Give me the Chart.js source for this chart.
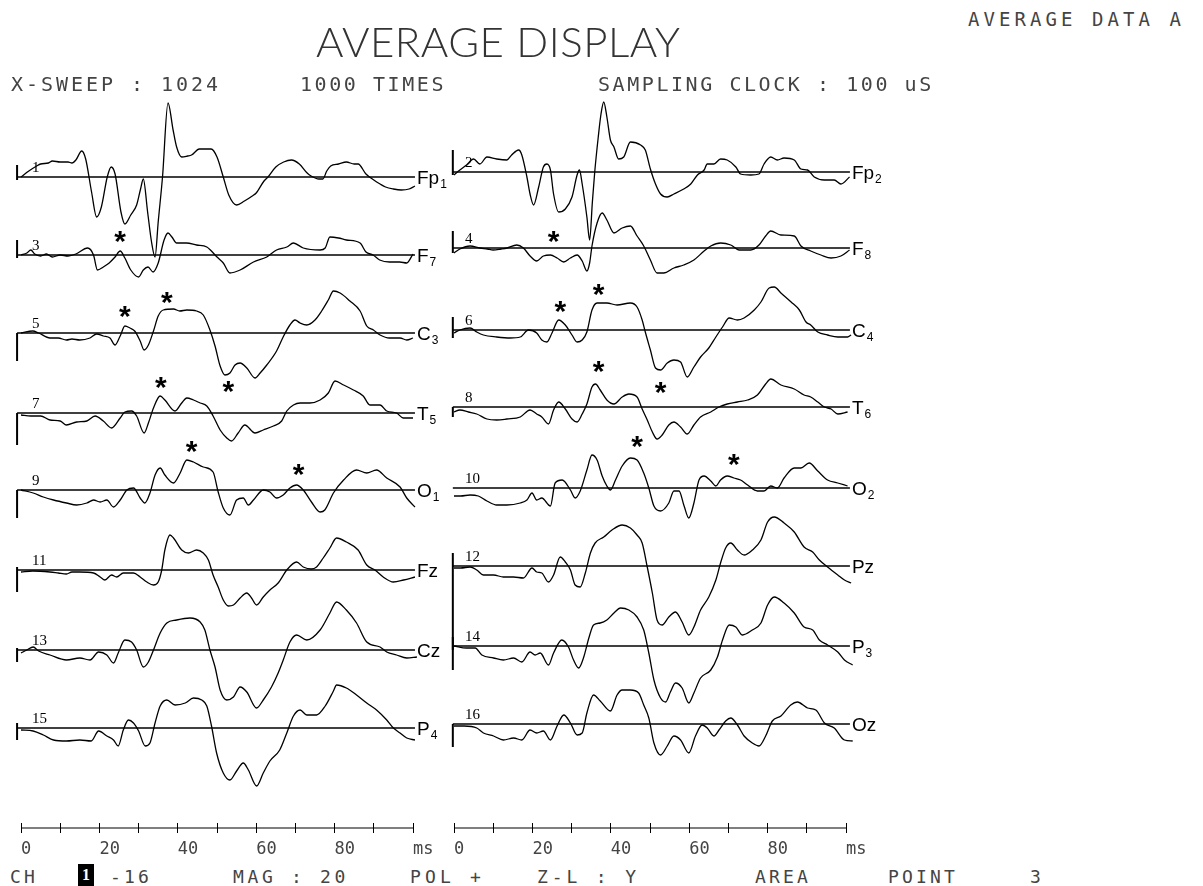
<!DOCTYPE html>
<html>
<head>
<meta charset="utf-8">
<script src="https://cdn.jsdelivr.net/npm/chart.js@4.4.1/dist/chart.umd.min.js"></script>
<style>
  html, body { margin: 0; padding: 0; background: #fff; overflow: hidden; }
  #page { position: relative; width: 1203px; height: 886px; overflow: hidden; background: #fff; }
  #page canvas { position: absolute; }
  .t { position: absolute; white-space: nowrap; font-family: "DejaVu Sans Mono", monospace; color: #444; line-height: 1; transform-origin: 0 0; }
  .title { font-family: Lato, "Noto Sans", sans-serif; font-weight: 300; color: #333; }
  .chbox { position: absolute; background: #000; color: #fff; font: bold 16px "Liberation Serif", serif; text-align: center; line-height: 22px; }
</style>
</head>
<body>
<div id="page"></div>
<script>
// ---- data: [time ms, deflection] ----
const fp1 = [[0,0],[2,6],[4,11],[5,13],[7,14],[8,16],[10,15],[12,15],[13,14],[14,17],[15.5,26],[16.5,18],[18,-15],[19.3,-40],[20.5,-30],[22,0],[23,10],[24,3],[25.5,-35],[26.5,-47],[28,-38],[29.5,-28],[30.5,-12],[31.2,-2],[32.3,-35],[33.3,-65],[34.2,-80],[35,-45],[36.1,0],[37.5,74],[38.8,47],[39.7,30],[41,20],[42.5,21],[43.5,22],[45.5,28],[48.5,28],[50,20],[51.6,0],[53,-18],[55,-28],[57,-24],[59,-19],[60,-16],[62,-4],[63,0],[65,10],[67,15],[69,17],[71,13],[73,4],[74,1],[76,-2],[77,-2],[78,6],[79,11],[81,13],[83,15],[85,13],[86,13],[88,3],[90,-3],[91.6,-7],[93,-10],[95,-12],[97,-13],[99,-12],[100.5,-9]];
const f7 = [[0,0],[1.5,2],[2.5,5],[3.5,1],[5,-1],[6.5,1],[8,-2],[10,0],[12,-1],[14,1],[17,7],[18.5,0],[19.5,-15],[21,-12],[22.5,-8],[24,-2],[25.3,4],[26.5,-3],[28,-15],[30,-22],[31.2,-15],[32.4,-12],[33.7,-17],[35,-8],[36.5,15],[37.5,22],[38.5,18],[39.7,12],[42.2,12],[44.8,10],[47.4,8],[50,-2],[51.6,-8],[53.3,-18],[55.9,-15],[59.3,-7],[62.7,-2],[65.2,5],[67.8,8],[69.5,12],[72,7],[76.3,5],[77.6,7],[78.8,18],[81,17],[83,15],[86.5,12],[88,3],[89.8,0],[91.5,-5],[94,-7],[96.6,-7],[98.4,-8],[100,1]];
const c3 = [[0,0],[3,2],[4.5,0],[7.4,-5],[9.5,-5],[11.6,-7],[13,-6],[15,-7],[17.6,-5],[19.3,-1],[21,-3],[22.7,-5],[24,-12],[25.3,-3],[26.5,7],[27.8,5],[29,2],[30.4,-8],[31.4,-17],[32.5,-12],[33.8,2],[35,17],[36.3,23],[38.9,24],[40.5,22],[42.3,23],[44.8,22],[46.5,18],[48.2,3],[49.5,-13],[50.8,-33],[52,-42],[53.3,-40],[54.6,-32],[55.9,-30],[57.6,-35],[59.7,-45],[61,-40],[62.7,-32],[65.2,-18],[67,-3],[68.6,8],[69.9,13],[71.2,10],[72.9,8],[75,13],[76.7,22],[78.4,33],[79.7,42],[81.4,40],[83.9,32],[86.5,22],[88.2,7],[89.9,3],[91.6,-2],[94,-5],[96.7,-5],[98.4,-7],[100,-5]];
const t5 = [[0,-2],[2.5,-3],[5,-3],[7.4,-7],[10,-8],[11.6,-12],[14.2,-9],[16.8,-8],[18.9,-3],[21,-8],[23.1,-15],[25.3,-5],[26.5,1],[28.2,2],[29.5,-3],[31.4,-20],[32.5,-10],[33.8,5],[35.5,17],[36.7,13],[39.3,2],[41,10],[42.3,15],[44,13],[45.7,10],[47.4,7],[49,-3],[50.8,-17],[52.5,-25],[53.7,-28],[55.4,-20],[57.1,-12],[59.7,-20],[61.8,-17],[64.4,-13],[66.5,-8],[67.8,2],[69.5,8],[71.2,10],[73.7,10],[76.3,13],[78.4,20],[80.1,32],[82.3,28],[84.8,23],[87.3,17],[89,8],[91.6,8],[93.3,2],[95.8,0],[97.5,-5],[100,-5]];
const o1 = [[0,0],[3.1,-3],[5.7,-7],[8.3,-10],[11.6,-13],[14.2,-15],[16.8,-13],[18.5,-10],[20.2,-12],[21.9,-10],[23.6,-17],[25.3,-10],[27,0],[28.7,2],[30.4,-8],[31.6,-13],[32.9,-3],[34.2,15],[35.5,22],[36.7,15],[38.9,7],[40.6,17],[42.3,30],[44,28],[46.5,23],[49,18],[50.3,-2],[51.6,-18],[53.3,-25],[55,-10],[56.7,-8],[58,-15],[59.3,-10],[61.8,0],[63.5,-2],[65.2,-8],[66.9,-5],[68.6,2],[70.3,5],[72,0],[74.1,-12],[76.3,-22],[77.5,-20],[79.7,-3],[82.3,10],[85.6,20],[88.2,17],[90.7,20],[93.3,12],[96.7,3],[98.4,-8],[100.5,-17]];
const fz = [[0,-2],[3,-1],[7.4,-2],[9.5,-3],[11.6,-4],[13,-2],[15,-2],[18.5,-3],[20.2,-7],[21.4,-10],[23.1,-5],[24.4,-7],[26.1,-3],[28.7,-3],[30.4,-7],[32.1,-12],[33.8,-15],[35,-12],[35.9,0],[36.7,20],[38,35],[38.9,32],[41,20],[42.7,17],[44.8,20],[46.5,17],[47.8,10],[49,-5],[50.3,-17],[51.6,-30],[52.9,-36],[54.2,-35],[55.9,-28],[57.6,-23],[58.8,-28],[60.1,-35],[61.8,-27],[63.5,-20],[65.6,-13],[67.8,0],[70.3,8],[72,3],[74.1,1],[75.4,3],[77.1,12],[78.8,22],[80.5,32],[83,28],[86,20],[88.2,5],[90.3,0],[92.4,-7],[95,-12],[97.6,-10],[100.5,-7]];
const cz = [[0,-3],[1.5,0],[3.1,3],[4.5,-1],[7.4,-5],[11.6,-10],[15,-8],[17.6,-10],[19.8,-2],[21.9,-5],[23.6,-13],[24.8,-3],[26.5,10],[28.2,8],[29.5,0],[31.2,-17],[32.5,-12],[33.8,0],[35.5,17],[37.2,27],[39.7,30],[43.1,32],[45.7,28],[46.9,20],[48.2,0],[49.5,-17],[50.8,-40],[52.5,-50],[54.2,-47],[55.9,-37],[57.6,-42],[60.1,-58],[61.8,-50],[63.9,-37],[65.6,-23],[66.9,-10],[68.6,8],[70.3,15],[72.9,10],[76.3,20],[78.8,37],[80.5,48],[83,40],[85.6,27],[88.2,8],[91.6,3],[93.3,-2],[95.8,-5],[98.4,-8],[101,-7]];
const p4 = [[0,-2],[3.1,-3],[5.7,-7],[8.3,-12],[11.6,-13],[15,-12],[17.9,-13],[19.8,-3],[21.9,-8],[23.6,-12],[24.8,-18],[26.1,-2],[27.4,8],[28.7,5],[30,-3],[31.7,-18],[32.9,-15],[34.2,5],[35.5,22],[37.2,28],[39.3,23],[41.9,25],[44,30],[46.1,28],[47.4,22],[48.6,2],[49.9,-25],[51.6,-45],[53.3,-52],[55,-43],[56.7,-35],[58,-42],[60.1,-58],[61.8,-45],[63.5,-33],[66,-22],[67.8,-5],[69.5,12],[71.2,18],[72.9,13],[75.4,13],[77.6,22],[79.7,37],[80.5,43],[83,40],[85.6,33],[88.2,25],[90.7,18],[93.3,8],[95,0],[96.7,-5],[98.4,-10],[100.5,-12]];

const fp2 = [[0,-3],[1.5,2],[3.2,7],[5,13],[6.6,8],[8.4,15],[10.9,13],[13.5,12],[14.7,17],[16.5,22],[17.3,17],[18.6,-5],[19.4,-22],[20.3,-33],[21.6,-15],[22.8,5],[23.7,8],[24.6,2],[25.4,-22],[26.7,-40],[28.4,-37],[30.1,-25],[31.4,-3],[32,2],[32.7,-12],[33.9,-45],[34.6,-68],[35.3,-30],[35.9,0],[36.8,35],[37.5,58],[38.2,70],[39,55],[39.9,32],[40.8,25],[42,13],[43.3,15],[45,30],[47.6,27],[48.8,22],[50.1,3],[51.4,-12],[52.7,-22],[54.4,-25],[56.1,-22],[58.6,-17],[60.4,-12],[62.1,-3],[63.8,2],[64.6,8],[66.3,8],[68,13],[69.7,12],[71.9,5],[73.1,-2],[75.7,-3],[77.8,-2],[79.1,8],[80.8,15],[82.5,12],[84.2,14],[86.8,12],[88.5,3],[90.2,2],[91.9,-5],[94.5,-8],[97,-8],[98.7,-12],[100.9,-5]];
const f8 = [[0,-5],[1.5,-1],[4.1,2],[6.6,0],[8.5,-1],[10,-2],[12,-1],[13.5,0],[16,3],[17.7,0],[19.4,-8],[21.1,-13],[22.8,-8],[24.6,-7],[26.3,-10],[28,-14],[29.7,-10],[31.4,-7],[32.7,-13],[33.9,-23],[34.6,-15],[35.2,2],[36.5,25],[37.8,35],[39,28],[40.8,15],[42.9,20],[45,22],[46.7,12],[48.4,2],[50.1,-12],[51.8,-25],[53.5,-25],[56.1,-20],[58.6,-17],[61.2,-12],[63.8,-3],[65.5,2],[68,5],[70.6,3],[72.7,-2],[75.7,-2],[77.8,3],[79.5,12],[80.8,17],[83.4,13],[86.8,12],[88.5,2],[91,-3],[93.6,-7],[96.2,-10],[98.7,-8],[100.9,-2]];
const c4 = [[0,-3],[1.5,0],[4.1,2],[5.8,-2],[7.5,-5],[10.9,-7],[14.3,-8],[16.9,-7],[19,0],[21.1,-3],[22.4,-10],[23.7,-12],[25,-3],[26.7,10],[28.4,5],[30.1,-5],[31.4,-12],[32.7,-10],[33.9,-2],[35.2,20],[36.5,27],[39,27],[41.6,25],[45,27],[46.7,23],[48,10],[48.8,-2],[50.1,-20],[51.4,-38],[52.7,-40],[54.4,-33],[56.1,-30],[57.8,-32],[59.5,-47],[61.2,-37],[62.9,-27],[65,-18],[66.8,-7],[68.5,3],[70.2,12],[72.3,10],[74,12],[76.6,20],[78.3,28],[80.4,42],[81.7,43],[83.4,37],[86,28],[88.1,20],[89.8,8],[91,5],[92.8,-2],[95.3,-5],[97.9,-7],[100.4,-7],[101.3,-5]];
const t6 = [[0,-5],[1.5,-3],[3.7,-5],[5.8,-7],[8.4,-12],[10.9,-13],[13.5,-12],[16.9,-10],[19.4,-3],[21.1,-7],[22.4,-10],[24.1,-17],[25.4,-3],[26.7,5],[28.4,-2],[30.1,-12],[31.4,-15],[32.7,-7],[33.9,3],[35.2,20],[36.1,23],[37.3,17],[39,7],[40.8,3],[42.9,10],[44.6,13],[46.7,10],[48,-2],[49.3,-13],[50.6,-25],[51.8,-32],[53.1,-28],[54.8,-18],[56.1,-15],[57.8,-20],[59.5,-27],[61.2,-18],[62.9,-10],[65.5,-5],[67.6,0],[69.7,3],[72.3,5],[74.9,7],[77.4,12],[79.5,23],[80.8,28],[83.4,22],[86.8,18],[89.3,12],[91,10],[92.8,5],[94.5,0],[96.2,-2],[97.9,-7],[100.4,-5]];
const o2 = [[0,-8],[1.7,-8],[4.1,-7],[6.2,-8],[8.4,-13],[10.9,-17],[13.5,-17],[16.9,-15],[18.6,-12],[19.9,-5],[21.1,-12],[22.4,-10],[24.6,-18],[25.8,5],[27.6,8],[29.7,-2],[30.9,-10],[32.2,-3],[33.9,18],[35.2,33],[36.5,28],[37.8,12],[39,2],[39.9,-2],[41.2,8],[42.9,22],[45,30],[46.7,28],[48.4,15],[49.7,0],[51,-18],[52.7,-23],[54.8,-15],[56.1,-3],[57.4,-3],[58.7,-18],[59.9,-30],[61.2,-15],[62.5,8],[63.8,12],[65.5,7],[66.8,2],[68,8],[69.7,12],[71.4,10],[73.1,8],[74.9,3],[77.4,-3],[79.1,-3],[80.8,2],[82.5,0],[84.2,10],[86.8,20],[88.5,20],[90.6,25],[92.8,17],[95.3,8],[97.9,5],[100.4,2]];
const pz = [[0,-2],[1.7,-2],[4.1,-1],[5.8,-4],[7.5,-9],[10.1,-9],[12.6,-11],[15.2,-11],[17.7,-12],[19.9,-2],[21.1,-6],[22.4,-7],[24.1,-16],[25.4,-9],[27.1,9],[28.4,4],[29.7,-4],[30.9,-19],[32.2,-21],[33.5,-7],[34.8,13],[36,23],[38.2,29],[40.3,36],[42.9,41],[45,38],[46.7,31],[48,23],[49.3,-1],[50.6,-27],[51.8,-54],[53.1,-59],[54.8,-51],[56.5,-46],[58.2,-56],[59.9,-69],[61.2,-61],[62.9,-44],[65,-31],[66.8,-14],[68,3],[69.3,18],[70.6,23],[72.3,16],[74,11],[76.1,16],[78.3,26],[80,44],[81.7,49],[84.2,43],[86.8,34],[89.3,19],[91.5,14],[93.2,6],[95.3,-1],[97.9,-9],[99.6,-14],[101.3,-17]];
const p3 = [[0,0],[3.2,-2],[5.4,-2],[7.1,-9],[10.1,-12],[12.6,-14],[15.2,-12],[17.3,-16],[19.4,-6],[20.7,-9],[22,-7],[24.1,-19],[25.4,-7],[27.5,6],[29.2,-1],[30.5,-14],[31.8,-22],[33.1,-11],[34.4,8],[35.6,21],[37.3,23],[39,26],[40.8,33],[42.5,38],[44.6,36],[46.7,29],[48.4,16],[49.7,-7],[51,-34],[52.7,-52],[54,-56],[55.2,-46],[56.5,-37],[58.2,-42],[59.9,-57],[61.2,-47],[62.9,-32],[65.5,-24],[67.2,-11],[68.5,6],[70.2,21],[71.9,19],[73.6,11],[76.1,16],[78.3,23],[80,41],[81.7,49],[84.2,43],[86.8,33],[89.3,19],[91.5,16],[93.2,6],[95.3,1],[97.9,-6],[99.6,-14],[101.7,-19]];
const oz = [[0,-2],[2.6,-2],[5.8,-4],[7.5,-9],[10.1,-12],[12.6,-16],[15.2,-14],[17.3,-16],[19.4,-6],[21.1,-9],[22.8,-7],[24.6,-16],[26.3,-2],[28,9],[29.7,1],[31.4,-11],[32.7,-9],[33.9,11],[35.6,29],[37.3,23],[39.9,13],[41.6,29],[42.9,34],[45,34],[47.1,31],[48.4,19],[49.7,6],[51,-19],[52.7,-31],[54.4,-22],[56.1,-12],[57.8,-16],[59.9,-29],[61.6,-12],[63.3,-1],[64.6,-4],[66.3,-12],[67.6,-6],[69.3,3],[70.6,6],[72.3,-1],[74,-12],[76.1,-19],[77.8,-22],[79.5,-12],[81.2,3],[83.4,8],[85.9,19],[87.6,22],[90.2,16],[92.3,14],[94.5,1],[97,-4],[99.6,-16],[101.7,-17]];

const leftLabels = ['Fp1', 'F7', 'C3', 'T5', 'O1', 'Fz', 'Cz', 'P4'];
const rightLabels = ['Fp2', 'F8', 'C4', 'T6', 'O2', 'Pz', 'P3', 'Oz'];
const leftNums = [1, 3, 5, 7, 9, 11, 13, 15];
const rightNums = [2, 4, 6, 8, 10, 12, 14, 16];
const leftSeries = [fp1, f7, c3, t5, o1, fz, cz, p4];
const rightSeries = [fp2, f8, c4, t6, o2, pz, p3, oz];

// calibration pulse [top, bottom]
const leftCalib = [[12,-3],[15,-3],[0,-28],[0,-32],[0,-28],[3,-22],[2,-12],[5,-12]];
const rightCalib = [[22,-3],[17,-5],[13,-8],[0,-10],[0,0],[13,-84],[9,-24],[0,-23]];

// asterisk marks [time, deflection]
const leftStars = [[], [[25.3,18]], [[26.5,21],[37.2,35]], [[35.7,30],[52.9,26]], [[43.5,43],[70.8,20]], [], [], []];
const rightStars = [[], [[25.4,11]], [[27.1,23],[36.9,40]], [[36.9,40],[52.7,19]], [[46.7,46],[71.4,28]], [], [], []];

const tickValues = [0, 20, 40, 60, 80, 100];
const tickTexts = ['0', '20', '40', '60', '80', 'ms'];

// ---- layout ----
const PX_PER_MS = 3.92;
const TRACE_H = 240;
const AXIS_Y = 828;
const cols = [
  { x0: 21, left: 0, width: 452, baseY: [177,255,333,413,490,570,650,728], tStart: -1, tEnd: 100.5, calT: -1,
    labels: leftLabels, nums: leftNums, series: leftSeries, calib: leftCalib, stars: leftStars },
  { x0: 454, left: 440, width: 465, baseY: [172,248,330,407,488,566,646,724], tStart: -0.3, tEnd: 101, calT: -0.3,
    labels: rightLabels, nums: rightNums, series: rightSeries, calib: rightCalib, stars: rightStars }
];

const page = document.getElementById('page');
Chart.defaults.font.family = '"DejaVu Sans Mono", monospace';

const eegText = {
  id: 'eeg',
  afterDatasetsDraw(chart, args, o) {
    const { ctx } = chart;
    const x = chart.scales.x, y = chart.scales.y;
    const y0 = y.getPixelForValue(0);
    ctx.save();
    ctx.fillStyle = '#000';
    ctx.textBaseline = 'alphabetic';
    const m = o.label.match(/^([A-Za-z]+)(\d*)$/);
    const lx = x.getPixelForValue(o.tEnd) + 2;
    ctx.font = '19px "Liberation Sans", Arial, sans-serif';
    ctx.fillText(m[1], lx, y0 + 7);
    if (m[2]) {
      const w = ctx.measureText(m[1]).width;
      ctx.font = '12px "Liberation Sans", Arial, sans-serif';
      ctx.fillText(m[2], lx + w + 1, y0 + 11);
    }
    ctx.font = '15px "Liberation Serif", serif';
    ctx.fillText(String(o.num), x.getPixelForValue(0) + 11, y0 - 5);
    ctx.font = 'bold 30px "Liberation Sans", Arial, sans-serif';
    ctx.textAlign = 'center';
    const mm = ctx.measureText('*');
    const off = (mm.actualBoundingBoxAscent - mm.actualBoundingBoxDescent) / 2;
    o.stars.forEach(([t, v]) => ctx.fillText('*', x.getPixelForValue(t), y.getPixelForValue(v) + off));
    ctx.restore();
  }
};

function addCanvas(left, top, w, h) {
  const cv = document.createElement('canvas');
  cv.width = w; cv.height = h;
  cv.style.left = left + 'px'; cv.style.top = top + 'px';
  cv.style.width = w + 'px'; cv.style.height = h + 'px';
  page.appendChild(cv);
  return cv;
}

const baseOpts = { responsive: false, animation: false, events: [],
  plugins: { legend: { display: false }, tooltip: { enabled: false } } };

cols.forEach(col => {
  const lx0 = col.x0 - col.left;
  col.series.forEach((pts, i) => {
    const cv = addCanvas(col.left, col.baseY[i] - TRACE_H / 2, col.width, TRACE_H);
    const cal = col.calib[i];
    new Chart(cv, {
      type: 'line',
      data: {
        datasets: [
          { data: pts.map(([t, v]) => ({ x: t, y: v })), borderColor: '#000', borderWidth: 1.3,
            pointRadius: 0, cubicInterpolationMode: 'monotone', clip: false },
          { data: [{ x: col.tStart, y: 0 }, { x: col.tEnd, y: 0 }], borderColor: '#000', borderWidth: 1.3,
            pointRadius: 0, clip: false },
          { data: [{ x: col.calT, y: cal[0] }, { x: col.calT, y: cal[1] }], borderColor: '#000', borderWidth: 2,
            pointRadius: 0, clip: false }
        ]
      },
      options: {
        ...baseOpts,
        layout: { padding: 0 },
        plugins: { ...baseOpts.plugins,
          eeg: { label: col.labels[i], num: col.nums[i], stars: col.stars[i], tEnd: col.tEnd } },
        scales: {
          x: { type: 'linear', display: false, min: -lx0 / PX_PER_MS, max: (col.width - lx0) / PX_PER_MS },
          y: { type: 'linear', display: false, min: -TRACE_H / 2, max: TRACE_H / 2 }
        }
      },
      plugins: [eegText]
    });
  });

  // time axis: line with short tick marks crossing it (grid lines in a 10px high area)
  const padL = 10, padR = 45, axW = 100 * PX_PER_MS + padL + padR;
  const tk = addCanvas(col.x0 - padL, AXIS_Y - 6, axW, 12);
  new Chart(tk, {
    type: 'line',
    data: { datasets: [{ data: [{ x: 0, y: 0 }, { x: 100, y: 0 }], borderColor: '#000', borderWidth: 1.2, pointRadius: 0, clip: false }] },
    options: {
      ...baseOpts,
      layout: { padding: { left: padL, right: padR, top: 1, bottom: 1 } },
      scales: {
        x: { type: 'linear', min: 0, max: 100, position: 'bottom',
          grid: { display: true, drawOnChartArea: true, drawTicks: false, color: '#000', lineWidth: 1 },
          border: { display: false },
          ticks: { display: false, stepSize: 10, autoSkip: false, includeBounds: false } },
        y: { display: false, min: -1, max: 1 }
      }
    }
  });

  // tick labels
  const lb = addCanvas(col.x0 - padL, 0, axW, 50);
  const lbChart = new Chart(lb, {
    type: 'line',
    data: { datasets: [] },
    options: {
      ...baseOpts,
      layout: { padding: { left: padL, right: padR, top: 0, bottom: 0 } },
      scales: {
        x: { type: 'linear', min: 0, max: 100, position: 'bottom',
          grid: { display: false, drawTicks: false }, border: { display: false },
          ticks: { stepSize: 10, autoSkip: false, includeBounds: false, maxRotation: 0, align: 'start', padding: 0,
            color: '#444', font: { size: 17 },
            callback: v => { const k = tickValues.indexOf(v); return k >= 0 ? tickTexts[k] : ''; } } },
        y: { display: false, min: 0, max: 1 }
      }
    }
  });
  lb.style.top = (AXIS_Y + 12 - lbChart.chartArea.bottom) + 'px';
});

// ---- header / footer text ----
function addText(str, x, capTop, size, cell) {
  const d = document.createElement('div');
  d.className = 't';
  d.textContent = str;
  d.style.fontSize = size + 'px';
  d.style.left = x + 'px';
  d.style.top = (capTop - 0.117 * size) + 'px';
  d.style.letterSpacing = (cell - 0.602 * size) + 'px';
  page.appendChild(d);
  return d;
}

const title = document.createElement('div');
title.className = 't title';
title.textContent = 'AVERAGE DISPLAY';
title.style.fontSize = '42px';
title.style.left = '316px';
title.style.top = (27 - 0.17 * 42) + 'px';
page.appendChild(title);
const natural = title.getBoundingClientRect().width;
const targetW = 364;
if (natural > targetW) title.style.transform = 'scaleX(' + (targetW / natural) + ')';
else title.style.letterSpacing = ((targetW - natural) / 14) + 'px';

addText('AVERAGE DATA A', 968, 12, 19, 15.5);
addText('X-SWEEP : 1024', 11, 76, 20, 15);
addText('1000 TIMES', 300, 76, 20, 14.6);
addText('SAMPLING CLOCK : 100 uS', 598, 76, 20, 14.6);

addText('CH', 10, 870, 18, 14);
const box = document.createElement('div');
box.className = 'chbox';
box.textContent = '1';
box.style.left = '78px'; box.style.top = '864px'; box.style.width = '16px'; box.style.height = '22px';
page.appendChild(box);
addText('-16', 110, 870, 18, 14);
addText('MAG : 20', 233, 870, 18, 14.5);
addText('POL +', 410, 870, 18, 15);
addText('Z-L : Y', 537, 870, 18, 14.7);
addText('AREA', 755, 870, 18, 14);
addText('POINT', 888, 870, 18, 14);
addText('3', 1030, 870, 18, 14);
</script>
</body>
</html>
